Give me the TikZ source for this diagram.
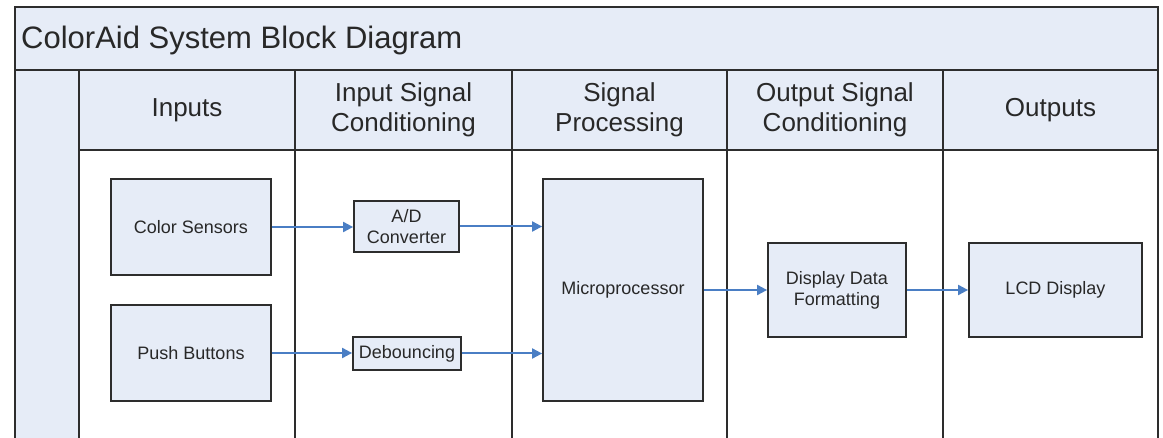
\documentclass[tikz,border=0pt]{standalone}
\usepackage{fontspec}
\setmainfont{Liberation Sans}
\usetikzlibrary{arrows.meta}
\definecolor{fillblue}{RGB}{230,236,247}
\definecolor{linegray}{RGB}{45,45,45}
\definecolor{arrowblue}{RGB}{74,126,196}
\definecolor{txt}{RGB}{40,40,40}
\begin{document}
\begin{tikzpicture}[x=1pt,y=-1pt,
  blk/.style={draw=linegray, line width=1.8pt, fill=fillblue, inner sep=0pt, align=center,
    font=\fontsize{18}{21}\selectfont, text=txt},
  frameline/.style={draw=linegray, line width=2.2pt},
  hdr/.style={align=center, font=\fontsize{26}{30}\selectfont, text=txt},
  flow/.style={draw=arrowblue, line width=2pt, -{Triangle[length=10pt,width=10pt]}}
]
\useasboundingbox (0,0) rectangle (1163,438);
\fill[white] (0,0) rectangle (1163,438);
% bands
\fill[fillblue] (15,7) rectangle (1158,70);
\fill[fillblue] (15,70) rectangle (79,445);
\fill[fillblue] (79,70) rectangle (1158,150);
% frame lines
\draw[frameline] (15,445) -- (15,7) -- (1158,7) -- (1158,445);
\draw[frameline] (15,70) -- (1158,70);
\draw[frameline] (79,150) -- (1158,150);
\foreach \x in {79,295,512,727,943} \draw[frameline] (\x,70) -- (\x,445);
% title
\node[anchor=base west, inner sep=0pt, font=\fontsize{31}{36}\selectfont, text=txt] (title) at (21,49) {ColorAid System Block Diagram};
% headers
\node[hdr] (h1) at (187,110) {Inputs};
\node[hdr] (h2) at (403.5,110) {Input Signal\\Conditioning};
\node[hdr] (h3) at (619.5,110) {Signal\\Processing};
\node[hdr] (h4) at (835,110) {Output Signal\\Conditioning};
\node[hdr] (h5) at (1050.5,110) {Outputs};
% blocks
\node[blk, minimum width=160pt, minimum height=96pt] (cs) at (191,227) {Color Sensors};
\node[blk, minimum width=160pt, minimum height=96pt] (pb) at (191,353) {Push Buttons};
\node[blk, minimum width=105pt, minimum height=51pt] (ad) at (406.5,226.5) {A/D\\Converter};
\node[blk, minimum width=108pt, minimum height=33pt] (deb) at (407,353.5) {Debouncing};
\node[blk, minimum width=160pt, minimum height=222pt] (mp) at (623,290) {Microprocessor};
\node[blk, minimum width=138pt, minimum height=94pt] (ddf) at (837,290) {Display Data\\Formatting};
\node[blk, minimum width=173pt, minimum height=94pt] (lcd) at (1055.5,290) {LCD Display};
% connectors
\draw[flow] (cs.east) -- (cs.east -| ad.west);
\draw[flow] (ad.east) -- (ad.east -| mp.west);
\draw[flow] (pb.east) -- (pb.east -| deb.west);
\draw[flow] (deb.east) -- (deb.east -| mp.west);
\draw[flow] (mp.east) -- (ddf.west);
\draw[flow] (ddf.east) -- (lcd.west);
\end{tikzpicture}
\end{document}
